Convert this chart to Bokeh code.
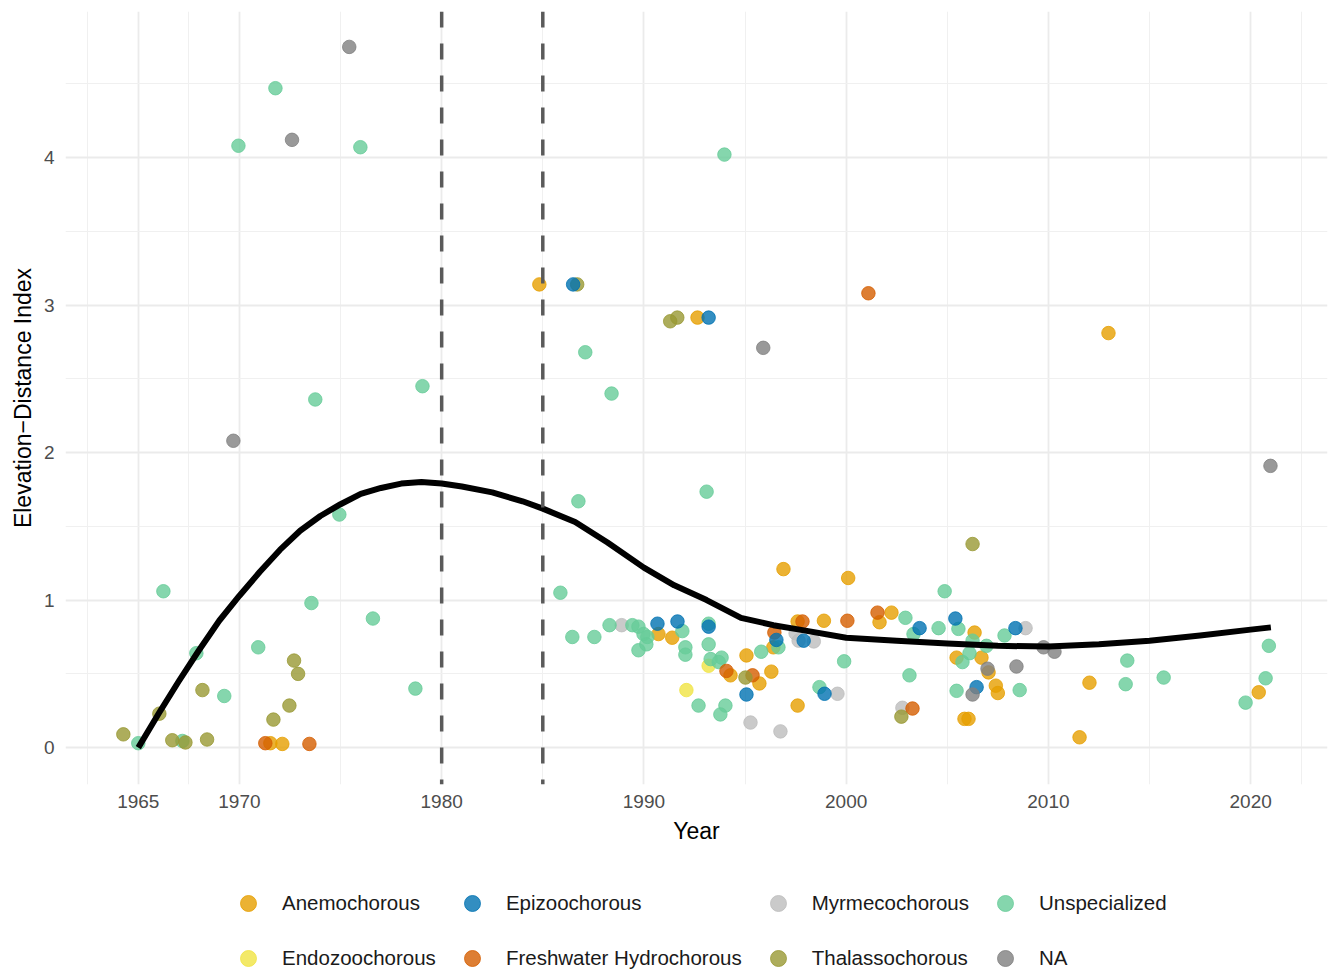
from bokeh.plotting import figure
from bokeh.layouts import column
from bokeh.models import FixedTicker, Span, Legend, LegendItem, ColumnDataSource
from bokeh.embed import file_html
from bokeh.resources import INLINE

FONT = "Liberation Sans"

# ---------------- data ----------------
anemo_year = [1971.53, 1972.12, 1984.83, 1992.65, 1996.9, 1990.72, 1991.4, 1994.28, 1995.07, 1995.71,
              1996.3, 1996.4, 1997.6, 1998.9, 1997.6, 2000.1, 2001.65, 2002.24, 2006.35, 2005.46,
              2006.69, 2007.04, 2007.4, 2007.5, 2005.85, 2006.05, 2012.03, 2011.54, 2012.97, 2020.4]
anemo_value = [0.03, 0.025, 3.14, 2.915, 1.21, 0.77, 0.745, 0.49, 0.625, 0.435,
               0.515, 0.68, 0.855, 0.86, 0.285, 1.15, 0.85, 0.915, 0.78, 0.61,
               0.61, 0.51, 0.42, 0.37, 0.195, 0.195, 0.44, 0.07, 2.81, 0.375]

endo_year = [1993.2, 1992.1]
endo_value = [0.555, 0.39]

myrme_year = [1988.9, 1995.27, 1996.75, 1997.5, 1997.65, 1998.4, 1999.57, 2002.78, 2008.87]
myrme_value = [0.83, 0.17, 0.11, 0.775, 0.725, 0.72, 0.365, 0.27, 0.81]

unspec_year = [1971.78, 1969.95, 1975.98, 1979.05, 1973.75, 1974.94, 1966.24, 1973.56, 1976.6, 1967.87,
               1970.93, 1969.25, 1978.7, 1965.0, 1967.18, 1993.98, 1987.1, 1988.4, 1993.1, 1986.76,
               1985.87, 1986.46, 1987.55, 1988.3, 1989.43, 1989.73, 1989.98, 1990.17, 1990.12, 1989.73,
               1991.9, 1992.05, 1992.05, 1993.2, 1993.2, 1993.3, 1993.84, 1993.7, 1992.7, 1994.03,
               1993.78, 1995.8, 1996.65, 1998.68, 2004.87, 2002.93, 2003.33, 2004.57, 2005.55, 2006.25,
               2006.94, 2006.1, 2005.75, 2007.83, 1999.9, 2003.13, 2005.46, 2008.58, 2020.9, 2020.74,
               2019.75, 2013.9, 2013.82, 2015.7]
unspec_value = [4.47, 4.08, 4.07, 2.45, 2.36, 1.58, 1.06, 0.98, 0.875, 0.64,
                0.68, 0.35, 0.40, 0.03, 0.045, 4.02, 2.68, 2.40, 1.735, 1.67,
                1.05, 0.75, 0.75, 0.83, 0.83, 0.82, 0.77, 0.75, 0.70, 0.66,
                0.79, 0.68, 0.63, 0.84, 0.70, 0.60, 0.61, 0.58, 0.285, 0.285,
                0.225, 0.65, 0.68, 0.41, 1.06, 0.88, 0.77, 0.81, 0.805, 0.725,
                0.69, 0.64, 0.58, 0.76, 0.585, 0.49, 0.385, 0.39, 0.69, 0.47,
                0.305, 0.59, 0.43, 0.475]

fresh_year = [1971.28, 1973.46, 2001.1, 1994.08, 1995.37, 1996.45, 1997.84, 2000.06, 2001.55, 2003.28]
fresh_value = [0.03, 0.025, 3.08, 0.52, 0.49, 0.78, 0.855, 0.86, 0.915, 0.265]

thalasso_year = [1972.7, 1972.9, 1968.17, 1972.47, 1971.68, 1966.04, 1964.26, 1966.68, 1967.33, 1968.4,
                 1986.7, 1991.3, 1991.65, 1995.02, 2006.25, 2002.73]
thalasso_value = [0.59, 0.50, 0.39, 0.285, 0.19, 0.23, 0.09, 0.05, 0.035, 0.055,
                  3.14, 2.89, 2.915, 0.475, 1.38, 0.21]

epizoo_year = [1986.5, 1993.2, 1990.67, 1991.66, 1993.2, 1995.07, 1996.55, 1997.9, 1998.93, 2003.63,
               2005.4, 2006.45, 2008.37]
epizoo_value = [3.14, 2.915, 0.84, 0.855, 0.82, 0.36, 0.73, 0.725, 0.365, 0.81,
                0.875, 0.41, 0.81]

na_year = [1975.43, 1972.6, 1969.7, 1995.9, 2020.98, 2006.99, 2009.76, 2010.3, 2008.42, 2006.25]
na_value = [4.75, 4.12, 2.08, 2.71, 1.91, 0.535, 0.68, 0.65, 0.55, 0.36]

# smoothed trend
smooth_year = [1965, 1966, 1967, 1968, 1969, 1970, 1971, 1972, 1973, 1974, 1975, 1976, 1977, 1978,
               1979, 1980, 1981, 1982.5, 1984, 1985, 1986.6, 1988.2, 1990, 1991.5, 1993.1, 1994.8,
               1996.4, 1997.7, 2000, 2002.5, 2005, 2007.5, 2010, 2012.5, 2015, 2017.5, 2020, 2021]
smooth_value = [0.0, 0.23, 0.45, 0.66, 0.86, 1.03, 1.19, 1.34, 1.47, 1.57, 1.65, 1.72, 1.76, 1.79,
                1.80, 1.79, 1.77, 1.73, 1.67, 1.62, 1.53, 1.39, 1.22, 1.10, 1.00, 0.88,
                0.83, 0.80, 0.745, 0.725, 0.705, 0.69, 0.685, 0.70, 0.725, 0.76, 0.80, 0.815]

period_lines = [1980, 1985]

x_major = [1965, 1970, 1980, 1990, 2000, 2010, 2020]
x_minor = [1962.5, 1967.5, 1975, 1985, 1995, 2005, 2015, 2022.5]
y_major = [0, 1, 2, 3, 4]
y_minor = [0.5, 1.5, 2.5, 3.5, 4.5]

series = [
    ("Anemochorous", anemo_year, anemo_value, "#E69F00"),
    ("Endozoochorous", endo_year, endo_value, "#F0E442"),
    ("Myrmecochorous", myrme_year, myrme_value, "#BDBDBD"),
    ("Unspecialized", unspec_year, unspec_value, "#66CC99"),
    ("Freshwater Hydrochorous", fresh_year, fresh_value, "#D55E00"),
    ("Thalassochorous", thalasso_year, thalasso_value, "#999933"),
    ("Epizoochorous", epizoo_year, epizoo_value, "#0072B2"),
    ("NA", na_year, na_value, "#808080"),
]
legend_order = ["Anemochorous", "Epizoochorous", "Myrmecochorous", "Unspecialized",
                "Endozoochorous", "Freshwater Hydrochorous", "Thalassochorous", "NA"]

# ---------------- main figure ----------------
p = figure(frame_width=1262, frame_height=773,
           x_range=(1961.4, 2023.8), y_range=(-0.25, 4.99),
           output_backend="svg", toolbar_location=None,
           min_border_left=65, min_border_right=1, min_border_top=11, min_border_bottom=70)
p.outline_line_color = None
p.background_fill_color = "white"

p.xaxis.ticker = FixedTicker(ticks=x_major, minor_ticks=x_minor)
p.yaxis.ticker = FixedTicker(ticks=y_major, minor_ticks=y_minor)
for ax in (p.xaxis[0], p.yaxis[0]):
    ax.axis_line_color = None
    ax.major_tick_line_color = None
    ax.minor_tick_line_color = None
    ax.major_tick_out = 0
    ax.minor_tick_out = 0
    ax.major_tick_in = 0
    ax.minor_tick_in = 0
    ax.major_label_text_font = FONT
    ax.major_label_text_font_size = "19px"
    ax.major_label_text_color = "#4D4D4D"
    ax.axis_label_text_font = FONT
    ax.axis_label_text_font_size = "23px"
    ax.axis_label_text_font_style = "normal"
    ax.axis_label_text_color = "black"
p.xaxis.axis_label = "Year"
p.yaxis.axis_label = "Elevation\u2212Distance Index"
p.xaxis.major_label_standoff = 10
p.xaxis.axis_label_standoff = 7
p.yaxis.major_label_standoff = 11
p.yaxis.axis_label_standoff = 5

for g in (p.xgrid[0], p.ygrid[0]):
    g.grid_line_color = "#EBEBEB"
    g.grid_line_width = 1.8
    g.minor_grid_line_color = "#F0F0F0"
    g.minor_grid_line_width = 1

for yr in period_lines:
    p.add_layout(Span(location=yr, dimension="height", line_color="#5A5A5A",
                      line_width=3.5, line_dash="16 16"))

sources = {}
for name, xs, ys, col in series:
    src = ColumnDataSource(dict(x=xs, y=ys))
    sources[name] = src
    p.scatter("x", "y", source=src, size=13.5, marker="circle",
              fill_color=col, line_color=col, fill_alpha=0.8, line_alpha=0.8)

p.line(smooth_year, smooth_value, line_color="black", line_width=6, line_join="round")

# ---------------- legend strip (same series, out of view; only the legend shows) ----------------
lf = figure(width=1328, height=117, x_range=(0, 1), y_range=(0, 1),
            x_axis_type=None, y_axis_type=None, output_backend="svg",
            toolbar_location=None, min_border=0)
lf.outline_line_color = None
lf.grid.visible = False

color_of = {name: col for name, xs, ys, col in series}
legend_renderers = {}
for name in legend_order:
    col = color_of[name]
    legend_renderers[name] = lf.scatter("x", "y", source=sources[name], size=13.5, marker="circle",
                                        fill_color=col, line_color=col,
                                        fill_alpha=0.8, line_alpha=0.8)

items = [LegendItem(label=n, renderers=[legend_renderers[n]]) for n in legend_order]
legend = Legend(items=items, orientation="horizontal", nrows=2,
                location=(162, -7), padding=0, margin=0, spacing=15,
                glyph_width=42, glyph_height=40, label_height=40, label_standoff=13,
                label_text_font=FONT, label_text_font_size="20.5px", label_text_color="#1A1A1A",
                border_line_color=None, background_fill_alpha=0)
lf.add_layout(legend)

layout = column(p, lf, spacing=0)
open("out.html", "w").write(file_html(layout, INLINE))
